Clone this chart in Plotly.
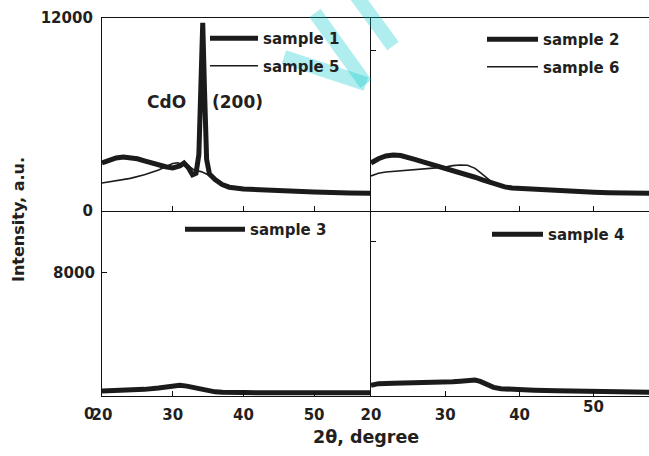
import plotly.graph_objects as go

# ---------------- data ----------------
s1_x = [20, 21, 22, 23, 24, 25, 26, 27, 28, 29, 30, 31, 31.6, 32.2, 32.8, 33.3, 33.7, 34.0, 34.25, 34.5, 34.8, 35.2, 36, 37, 38, 40, 42, 45, 48, 50, 55, 58]
s1_y = [2985, 3150, 3300, 3360, 3330, 3250, 3120, 2980, 2850, 2750, 2680, 2800, 2980, 2700, 2250, 2350, 3500, 7500, 11700, 7500, 3200, 2300, 1950, 1650, 1480, 1370, 1320, 1250, 1210, 1180, 1120, 1100]

s5_x = [20, 22, 24, 26, 28, 29, 30, 30.7, 31.3, 31.8, 32.4, 33, 34, 35, 36, 37, 38, 40, 42, 45, 48, 50, 55, 58]
s5_y = [1740, 1900, 2030, 2250, 2550, 2750, 2950, 3000, 2900, 2950, 2750, 2550, 2450, 2250, 1950, 1700, 1500, 1370, 1320, 1250, 1210, 1180, 1120, 1100]

s2_x = [20, 21, 22, 23, 24, 25, 26, 27, 28, 29, 30, 31, 32, 33, 34, 35, 36, 37, 38, 39, 40, 42, 44, 46, 48, 50, 52, 54, 57.5]
s2_y = [2985, 3250, 3420, 3480, 3450, 3350, 3200, 3050, 2920, 2800, 2650, 2500, 2380, 2260, 2100, 1930, 1780, 1620, 1500, 1430, 1400, 1370, 1350, 1280, 1220, 1170, 1140, 1120, 1100]

s6_x = [20, 21, 22, 24, 26, 28, 29, 30, 31, 32, 33, 34, 34.6, 35.3, 36, 37, 38, 39, 40, 42, 44, 46, 48, 50, 52, 54, 57.5]
s6_y = [2180, 2350, 2430, 2500, 2560, 2640, 2680, 2730, 2820, 2860, 2840, 2650, 2430, 2150, 1900, 1660, 1510, 1440, 1400, 1370, 1350, 1280, 1220, 1170, 1140, 1120, 1100]

s3_x = [20, 22, 24, 26, 28, 29, 30, 31, 32, 33, 34, 35, 36, 37, 38, 40, 45, 50, 55, 58]
s3_y = [320, 340, 380, 430, 520, 600, 660, 690, 640, 540, 420, 330, 270, 240, 220, 220, 210, 215, 210, 210]

s4_x = [20, 21, 23, 25, 27, 29, 30, 31, 32, 33, 34, 34.7, 35.5, 36.5, 37.5, 39, 42, 45, 48, 51, 54, 57.5]
s4_y = [700, 800, 820, 830, 830, 840, 870, 920, 960, 1010, 1030, 950, 750, 560, 470, 420, 380, 340, 300, 270, 250, 240]

x_ticks = [30, 40, 50]
x_ticks_bottom = [20, 30, 40, 50]
x_ticktext_left = ["20", "30", "40", "50"]
x_ticktext_right = ["20", "30", "40", ""]
y_ticks_top_left = [0, 12000]
y_ticktext_top_left = ["0", "12000"]
y_ticks_bottom_left = [8000]
y_ticks_right = [10000]

W, H = 649, 456
FONT = "DejaVu Sans"
TXT = "#231f20"
LINE = "#1b1b1b"


def px(p):
    return p / W


def py(p):
    return 1 - p / H


fig = go.Figure()

fig.add_trace(go.Scatter(x=s1_x, y=s1_y, mode="lines", name="sample 1", line=dict(color=LINE, width=5),
                         xaxis="x", yaxis="y", legend="legend", legendgroup="g1"))
fig.add_trace(go.Scatter(x=s5_x, y=s5_y, mode="lines", name="sample 5", line=dict(color=LINE, width=1.6),
                         xaxis="x", yaxis="y", legend="legend", legendgroup="g5"))
fig.add_trace(go.Scatter(x=s2_x, y=s2_y, mode="lines", name="sample 2", line=dict(color=LINE, width=5),
                         xaxis="x2", yaxis="y2", legend="legend2", legendgroup="g2"))
fig.add_trace(go.Scatter(x=s6_x, y=s6_y, mode="lines", name="sample 6", line=dict(color=LINE, width=1.6),
                         xaxis="x2", yaxis="y2", legend="legend2", legendgroup="g6"))
fig.add_trace(go.Scatter(x=s3_x, y=s3_y, mode="lines", name="sample 3", line=dict(color=LINE, width=5),
                         xaxis="x3", yaxis="y3", legend="legend3", legendgroup="g3"))
fig.add_trace(go.Scatter(x=s4_x, y=s4_y, mode="lines", name="sample 4", line=dict(color=LINE, width=5),
                         xaxis="x4", yaxis="y4", legend="legend4", legendgroup="g4"))

tickfont = dict(family=FONT, size=15, color=TXT, weight="bold")
ax_common = dict(showline=True, linecolor="#111", linewidth=1.3, showgrid=False, zeroline=False,
                 ticks="inside", ticklen=5, tickcolor="#111", tickfont=tickfont, fixedrange=True)

xl = [px(102), px(371)]
xr = [px(371), 1.0]
yt = [py(211), py(18)]
yb = [py(396), py(211)]

fig.update_layout(
    xaxis=dict(ax_common, domain=xl, range=[20, 58.05], anchor="y", mirror=True,
               tickvals=x_ticks, showticklabels=False),
    yaxis=dict(ax_common, domain=yt, range=[0, 12000], anchor="x",
               tickvals=y_ticks_top_left, ticktext=y_ticktext_top_left, ticks="", ticklabelstandoff=5),
    xaxis2=dict(ax_common, domain=xr, range=[20, 57.42], anchor="y2", mirror=True,
                tickvals=x_ticks, showticklabels=False),
    yaxis2=dict(ax_common, domain=yt, range=[0, 12000], anchor="x2",
                tickvals=y_ticks_right, showticklabels=False),
    xaxis3=dict(ax_common, domain=xl, range=[20, 58.05], anchor="y3",
                tickvals=x_ticks_bottom, ticktext=x_ticktext_left, ticklabelstandoff=5),
    yaxis3=dict(ax_common, domain=yb, range=[0, 12000], anchor="x3",
                tickvals=y_ticks_bottom_left, ticklabelstandoff=3),
    xaxis4=dict(ax_common, domain=xr, range=[20, 57.42], anchor="y4",
                tickvals=x_ticks_bottom, ticktext=x_ticktext_right, ticklabelstandoff=5),
    yaxis4=dict(ax_common, domain=yb, range=[0, 12000], anchor="x4",
                tickvals=y_ticks_right, showticklabels=False),
)

legfont = dict(family=FONT, size=15, color=TXT, weight="bold")
leg_common = dict(font=legfont, bgcolor="rgba(0,0,0,0)", borderwidth=0,
                  xanchor="left", yanchor="top", tracegroupgap=5, itemclick=False, itemdoubleclick=False)
fig.update_layout(
    legend=dict(leg_common, x=px(205), y=py(22), itemwidth=48),
    legend2=dict(leg_common, x=px(482), y=py(23), itemwidth=51),
    legend3=dict(leg_common, x=px(180), y=py(213), itemwidth=60),
    legend4=dict(leg_common, x=px(487), y=py(218), itemwidth=51),
)


def seg(a, b):
    return dict(type="line", xref="paper", yref="paper", layer="above", opacity=0.31,
                x0=px(a[0]), y0=py(a[1]), x1=px(b[0]), y1=py(b[1]),
                line=dict(color="rgb(0,200,206)", width=14))


# watermark strokes (decoration, partly cut off at the top of the picture)
shapes = [
    seg((284, 57), (366, 84)),
    seg((366, 84), (315, 13)),
    seg((355, -6), (393, 46)),
]

annotations = [
    dict(text="CdO", x=px(166), y=py(102), xref="paper", yref="paper", showarrow=False,
         font=dict(family=FONT, size=17, color=TXT, weight="bold"), xanchor="center", yanchor="middle"),
    dict(text="(200)", x=px(237), y=py(102), xref="paper", yref="paper", showarrow=False,
         font=dict(family=FONT, size=17, color=TXT, weight="bold"), xanchor="center", yanchor="middle"),
    dict(text="Intensity, a.u.", x=px(19), y=py(220), xref="paper", yref="paper", showarrow=False, textangle=-90,
         font=dict(family=FONT, size=16, color=TXT, weight="bold"), xanchor="center", yanchor="middle"),
    dict(text="2θ, degree", x=px(366), y=py(437), xref="paper", yref="paper", showarrow=False,
         font=dict(family=FONT, size=17.5, color=TXT, weight="bold"), xanchor="center", yanchor="middle"),
    dict(text="0", x=px(89), y=py(414), xref="paper", yref="paper", showarrow=False,
         font=tickfont, xanchor="center", yanchor="middle"),
    dict(text="50", x=50, xref="x4", y=py(407), yref="paper", showarrow=False,
         font=tickfont, xanchor="center", yanchor="middle"),
]

fig.update_layout(
    width=W, height=H, margin=dict(l=0, r=0, t=0, b=0, autoexpand=False),
    paper_bgcolor="white", plot_bgcolor="white",
    annotations=annotations, shapes=shapes,
    showlegend=True,
)

fig.write_html("out.html", config={"displayModeBar": False},
               post_script="document.body.style.margin='0px';")
